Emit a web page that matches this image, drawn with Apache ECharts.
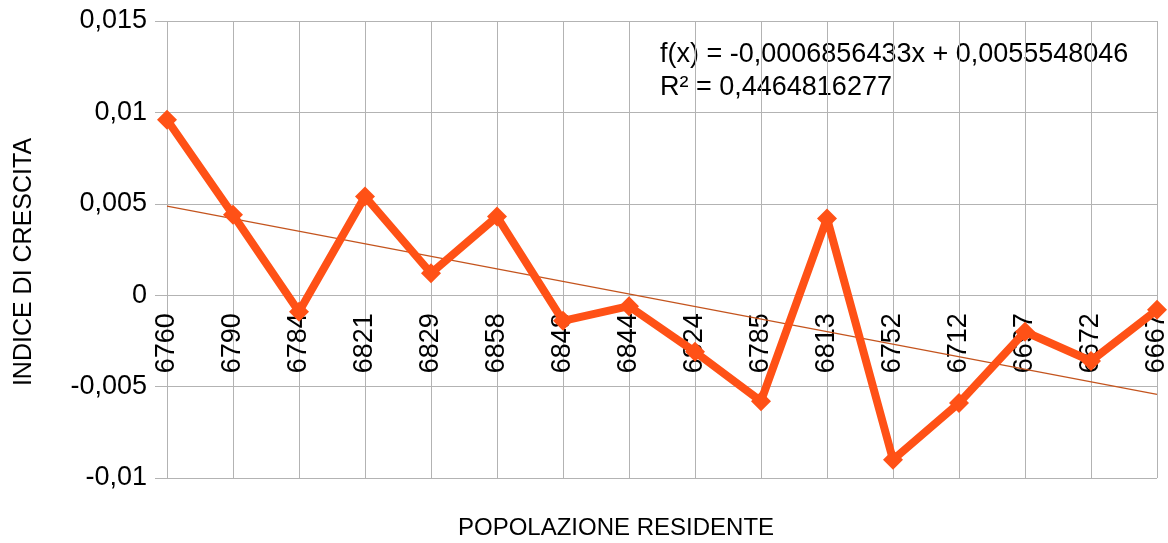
<!DOCTYPE html>
<html>
<head>
<meta charset="utf-8">
<script src="https://cdn.jsdelivr.net/npm/echarts@6/dist/echarts.min.js"></script>
<style>
  html, body { margin: 0; padding: 0; background: #fff; }
  #chart { width: 1168px; height: 543px; }
</style>
</head>
<body>
<div id="chart"></div>
<script>
// popolazione residente (categories) and indice di crescita values
var popolazione = ['6760', '6790', '6784', '6821', '6829', '6858', '6848', '6844',
                   '6824', '6785', '6813', '6752', '6712', '6697', '6672', '6667'];
var indice = [0.0096, 0.0044, -0.0009, 0.0054, 0.0012, 0.0043, -0.0014, -0.0006,
              -0.0031, -0.0058, 0.0042, -0.0090, -0.0059, -0.0020, -0.0036, -0.0008];
// linear trend line, value at first and last category
var trendEnds = [0.00487, -0.00542];
var yTicks = [-0.01, -0.005, 0, 0.005, 0.01, 0.015];
var equation = 'f(x) = -0,0006856433x + 0,0055548046';
var rSquared = 'R² = 0,4464816277';

var font = '"Liberation Sans", Arial, sans-serif';
var gridColor = '#b3b3b3';

var chartDom = document.getElementById('chart');
var myChart = echarts.init(chartDom);

// plot area: top 21, bottom 478 -> category labels hang from the zero line
var plotTop = 21, plotBottom = 478;
var zeroOffset = -(plotBottom - plotTop) * (0 - yTicks[0]) / (yTicks[yTicks.length - 1] - yTicks[0]);

var option = {
    animation: false,
    textStyle: { fontFamily: font },
    grid: { left: 167, right: 11, top: plotTop, bottom: 543 - plotBottom, outerBoundsMode: 'none', containLabel: false },
    xAxis: {
        type: 'category',
        data: popolazione,
        boundaryGap: false,
        position: 'bottom',
        offset: zeroOffset,
        axisLine: { show: false, onZero: false },
        axisTick: { show: false },
        axisLabel: {
            rotate: 90,
            margin: 18,
            fontSize: 27,
            color: '#000',
            fontFamily: font
        },
        splitLine: { show: true, lineStyle: { color: gridColor, width: 1 } }
    },
    yAxis: {
        type: 'value',
        min: yTicks[0],
        max: yTicks[yTicks.length - 1],
        interval: 0.005,
        axisLine: { show: false },
        axisTick: { show: true, length: 12, lineStyle: { color: gridColor } },
        axisLabel: {
            margin: 20,
            fontSize: 27,
            color: '#000',
            fontFamily: font,
            formatter: function (v) {
                return String(Math.round(v * 1000) / 1000).replace('.', ',');
            }
        },
        splitLine: { show: true, lineStyle: { color: gridColor, width: 1 } }
    },
    series: [
        {
            type: 'line',
            name: 'trend',
            data: [[0, trendEnds[0]], [popolazione.length - 1, trendEnds[1]]],
            symbol: 'none',
            lineStyle: { color: '#c4541e', width: 1.3 },
            z: 2
        },
        {
            type: 'line',
            name: 'indice',
            data: indice,
            symbol: 'diamond',
            symbolSize: 20,
            lineStyle: { color: '#ff5116', width: 8 },
            itemStyle: { color: '#ff5116' },
            z: 3
        }
    ],
    graphic: [
        {
            type: 'text',
            left: 660,
            top: 38,
            style: {
                text: equation + '\n' + rSquared,
                fontSize: 27,
                lineHeight: 33,
                fontFamily: font,
                fill: '#000'
            }
        },
        {
            type: 'text',
            left: 458,
            top: 516,
            style: {
                text: 'POPOLAZIONE RESIDENTE',
                fontSize: 24,
                fontFamily: font,
                fill: '#000'
            }
        },
        {
            type: 'text',
            x: 12,
            y: 262,
            rotation: Math.PI / 2,
            style: {
                text: 'INDICE DI CRESCITA',
                fontSize: 25,
                fontFamily: font,
                fill: '#000',
                align: 'center',
                verticalAlign: 'top'
            }
        }
    ]
};

myChart.setOption(option);
</script>
</body>
</html>
